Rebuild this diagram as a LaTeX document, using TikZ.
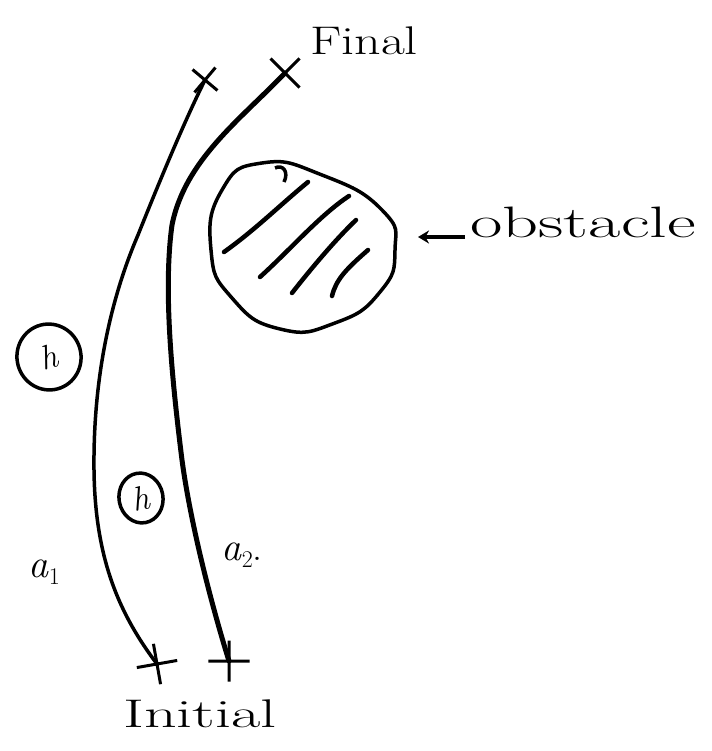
\documentclass[tikz,border=0pt]{standalone}
\usepackage{fontspec}
\usepackage{graphicx}
\usetikzlibrary{shapes.misc,shapes.geometric,arrows.meta}
\definecolor{ink}{RGB}{0,0,0}

\begin{document}
\begin{tikzpicture}[x=1pt, y=-1pt,
  every node/.style={ink},
  word/.style={font=\fontsize{40}{48}\selectfont, inner sep=0pt},
  finalmark/.style={draw=ink, cross out, line width=3pt, minimum size=20pt, inner sep=0pt},
  startmark/.style={draw=ink, cross out, line width=3pt, minimum size=26pt, inner sep=0pt, rotate=55},
  routea/.style={draw=ink, line width=3.5pt, line cap=round, line join=round},
  routeb/.style={draw=ink, line width=5pt, line cap=round, line join=round},
  blob/.style={draw=ink, line width=3.5pt},
  hatchline/.style={draw=ink, line width=4.5pt, line cap=round},
  hazard/.style={draw=ink, ellipse, line width=3.5pt, inner sep=0pt, font=\fontsize{34}{40}\selectfont}
]
  \useasboundingbox (0,0) rectangle (711,751);

  % End points
  \node[finalmark, rotate=5] (fin1) at (205,80) {};
  \node[finalmark, minimum size=26pt] (fin2) at (285,73) {};
  \node[startmark] (ini1) at (157,664) {};
  \node[startmark, rotate=-10] (ini2) at (229,661) {};

  % Labels
  \node[word] (finlabel) at (364,41) {\scalebox{1.3}[1]{Final}};
  \node[word] (inilabel) at (200,714) {\scalebox{1.6}[1]{Initial}};
  \node[word, font=\fontsize{44}{52}\selectfont] (obstlabel) at (583,222) {\scalebox{1.6}[1]{obstacle}};
  \node[word] (alabel) at (44,572) {\textit{a}\raisebox{-7pt}{\fontsize{24}{28}\selectfont 1}};
  \node[word] (blabel) at (242,555) {\textit{a}\raisebox{-7pt}{\fontsize{24}{28}\selectfont 2}.};

  % Routes
  \draw[routea] (ini1.center) .. controls (120,615) and (95,560) .. (94,470)
    .. controls (93,380) and (110,300) .. (138,235)
    .. controls (160,180) and (185,120) .. (fin1.center);
  \draw[routeb] (ini2.center) .. controls (210,600) and (190,520) .. (182,460)
    .. controls (172,380) and (163,290) .. (172,225)
    .. controls (185,160) and (240,120) .. (fin2.center);

  % Obstacle
  \draw[blob] plot[smooth cycle, tension=0.9] coordinates {(262,163) (322,175)
    (382,210) (395,250) (380,292) (335,323) (280,329)
    (232,298) (211,250) (222,190)};
  \draw[blob] (275,168) .. controls (283,164) and (289,172) .. (284,182);
  \draw[hatchline] (224,252) .. controls (255,230) and (280,205) .. (308,182);
  \draw[hatchline] (260,277) .. controls (290,250) and (320,215) .. (349,196);
  \draw[hatchline] (292,293) .. controls (310,270) and (335,240) .. (356,220);
  \draw[hatchline] (332,296) .. controls (336,280) and (345,270) .. (368,250);
  \coordinate (obstedge) at (418,237);
  \draw[draw=ink, line width=3.5pt, -{Stealth[length=11pt, width=13pt]}]
    ([xshift=-5pt]obstlabel.west |- obstedge) -- (obstedge);

  % Circled marks
  \node[hazard, minimum width=64pt, minimum height=66pt, rotate=15] (hz1) at (49,357) {\textit{h}};
  \node[hazard, minimum width=44pt, minimum height=50pt, rotate=10] (hz2) at (141,498) {\textit{h}};
\end{tikzpicture}
\end{document}
